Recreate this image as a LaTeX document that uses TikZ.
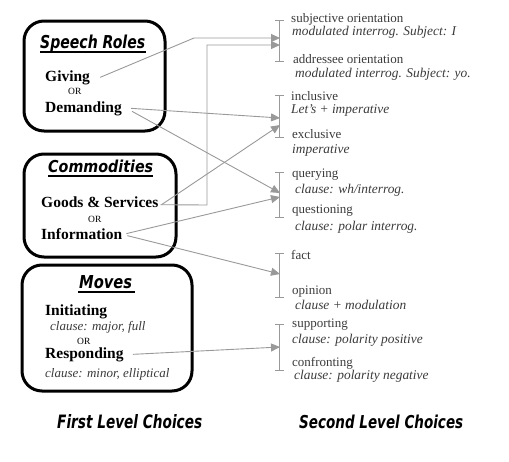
\documentclass[tikz,border=0pt]{standalone}
\usepackage{fontspec}
\usepackage{graphicx}
\setmainfont{Liberation Serif}
\newfontfamily\ttlfont{DejaVu Sans}
\usetikzlibrary{arrows.meta}
\definecolor{lg}{HTML}{999999}
\definecolor{rtc}{HTML}{3A3A3A}
\newcommand{\ttlbox}[3]{\resizebox{#1}{#2}{\ttlfont\bfseries\itshape #3}}
\tikzset{
  box/.style={draw=black, line width=3pt, rounded corners=20pt},
  lt/.style={anchor=base west, inner sep=0pt, font=\fontsize{15.5}{17}\selectfont\bfseries},
  orw/.style={anchor=base west, inner sep=0pt, font=\fontsize{9.5}{11}\selectfont},
  lit/.style={anchor=base west, inner sep=0pt, font=\fontsize{13}{14}\selectfont\itshape, text=rtc},
  rtx/.style={anchor=base west, inner sep=0pt, font=\fontsize{13}{14}\selectfont, text=rtc},
  rit/.style={anchor=base west, inner sep=0pt, font=\fontsize{13.4}{14}\selectfont\itshape, text=rtc},
  ttl/.style={anchor=base west, inner sep=0pt},
  uline/.style={line width=1.3pt},
  conn/.style={draw=lg, line width=0.9pt, -{Triangle[length=9pt,width=8pt]}},
  brk/.style={draw=lg, line width=1pt},
}
\begin{document}
\begin{tikzpicture}[x=1pt,y=-1pt]
\useasboundingbox (0,0) rectangle (509,461);

% boxes
\draw[box] (24,21) rectangle (165,131);
\draw[box] (24,154) rectangle (176,257);
\draw[box] (22,265) rectangle (192,391);

% titles
\node[ttl] (sr) at (40,48) {\ttlbox{105pt}{13.5pt}{Speech Roles}};
\draw[uline] (40,52) -- (146,52);
\node[ttl] (cm) at (48,172) {\ttlbox{105pt}{12.5pt}{Commodities}};
\draw[uline] (48,176) -- (153,176);
\node[ttl] (mv) at (79,288) {\ttlbox{53pt}{13pt}{Moves}};
\draw[uline] (78,292) -- (135,292);
\node[ttl] (flc) at (57,428) {\ttlbox{145pt}{14pt}{First Level Choices}};
\node[ttl] (slc) at (299,428) {\ttlbox{164pt}{13.5pt}{Second Level Choices}};

% left texts
\node[lt] (giv) at (45,81) {Giving};
\node[orw] (or1) at (68,94) {OR};
\node[lt] (dem) at (45,112) {Demanding};
\node[lt] (gs) at (41,207) {Goods \& Services};
\node[orw] (or2) at (88,222) {OR};
\node[lt] (inf) at (41,239) {Information};
\node[lt] (ini) at (45,315) {Initiating};
\node[lit] (cmf) at (50,330) {clause: major, full};
\node[orw] (or3) at (77,344) {OR};
\node[lt] (res) at (45,358) {Responding};
\node[lit] (cme) at (45,377) {clause: minor, elliptical};

% right texts
\node[rtx] (so) at (291,22) {subjective orientation};
\node[rit] (so2) at (292,35) {modulated interrog. Subject: I};
\node[rtx] (ao) at (293,63) {addressee orientation};
\node[rit] (ao2) at (295,77) {modulated interrog. Subject: yo.};
\node[rtx] (inc) at (291,100) {inclusive};
\node[rit] (inc2) at (291,113) {Let's + imperative};
\node[rtx] (exc) at (292,138) {exclusive};
\node[rit] (exc2) at (292,153) {imperative};
\node[rtx] (qry) at (292,177) {querying};
\node[rit] (qry2) at (295,193) {clause: wh/interrog.};
\node[rtx] (qst) at (292,213) {questioning};
\node[rit] (qst2) at (295,230) {clause: polar interrog.};
\node[rtx] (fct) at (291,259) {fact};
\node[rtx] (opn) at (292,294) {opinion};
\node[rit] (opn2) at (295,309) {clause + modulation};
\node[rtx] (sup) at (292,327) {supporting};
\node[rit] (sup2) at (292,343) {clause: polarity positive};
\node[rtx] (cnf) at (292,366) {confronting};
\node[rit] (cnf2) at (294,379) {clause: polarity negative};

% brackets
\foreach \a/\b in {20/61, 95/137, 172/217, 253/297, 324/370}{
  \draw[brk] (279,\a) -- (279,\b);
  \draw[brk] (275,\a) -- (284,\a);
  \draw[brk] (275,\b) -- (284,\b);
}

% arrow tips
\coordinate (t1a) at (280,38);
\coordinate (t1b) at (280,45);
\coordinate (t2a) at (280,118);
\coordinate (t2b) at (280,125);
\coordinate (t3a) at (280,193);
\coordinate (t3b) at (280,197);
\coordinate (t4) at (280,274);
\coordinate (t5) at (280,347);

% connectors
\draw[conn] ([xshift=10pt,yshift=0pt]giv.east) -- (194,38) -- (t1a);
\draw[conn] ([xshift=2pt,yshift=-3pt]gs.east) -- (207,205) -- (207,45) -- (t1b);
\draw[conn] ([xshift=9pt,yshift=0pt]dem.east) -- (t2a);
\draw[conn] ([xshift=10pt,yshift=-3pt]dem.east) -- (t3a);
\draw[conn] ([xshift=3pt,yshift=-3pt]gs.east) -- (t2b);
\draw[conn] ([xshift=4pt,yshift=0pt]inf.east) -- (t3b);
\draw[conn] ([xshift=5pt,yshift=-2pt]inf.east) -- (t4);
\draw[conn] ([xshift=9pt,yshift=0pt]res.east) -- (t5);
\end{tikzpicture}
\end{document}
